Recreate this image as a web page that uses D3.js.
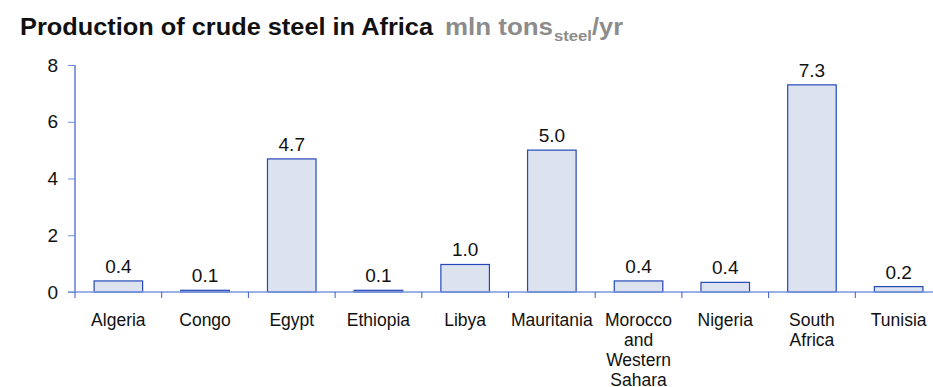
<!DOCTYPE html>
<html><head><meta charset="utf-8">
<script src="https://cdn.jsdelivr.net/npm/d3@7"></script>
<style>body{margin:0;background:#fff}svg{display:block;font-family:"Liberation Sans",Arial,sans-serif}</style>
</head><body><svg id="c" width="933" height="387"></svg>
<script>
const categories = ["Algeria","Congo","Egypt","Ethiopia","Libya","Mauritania","Morocco and Western Sahara","Nigeria","South Africa","Tunisia"];
const categoryLines = [["Algeria"],["Congo"],["Egypt"],["Ethiopia"],["Libya"],["Mauritania"],["Morocco","and","Western","Sahara"],["Nigeria"],["South","Africa"],["Tunisia"]];
const values = [0.39, 0.06, 4.69, 0.06, 0.97, 5.0, 0.39, 0.34, 7.3, 0.19];
const valueLabels = ["0.4","0.1","4.7","0.1","1.0","5.0","0.4","0.4","7.3","0.2"];
const yTicks = [0,2,4,6,8];

const svg = d3.select("#c");
const x = d3.scaleBand().domain(categories).range([75, 942]).padding(0);
const y = d3.scaleLinear().domain([0, 8]).range([292, 65]);
const barFrac = 0.56;

// title
const t = svg.append("g").attr("font-weight","bold");
t.append("text").attr("x",20).attr("y",34.5).attr("font-size",23).attr("fill","#111")
  .attr("textLength",413).attr("lengthAdjust","spacingAndGlyphs")
  .text("Production of crude steel in Africa");
t.append("text").attr("x",445).attr("y",34.5).attr("font-size",23).attr("fill","#8c8c8c")
  .attr("textLength",108).attr("lengthAdjust","spacingAndGlyphs").text("mln tons");
t.append("text").attr("x",554).attr("y",41).attr("font-size",15).attr("fill","#8c8c8c")
  .attr("textLength",38).attr("lengthAdjust","spacingAndGlyphs").text("steel");
t.append("text").attr("x",592).attr("y",34.5).attr("font-size",23).attr("fill","#8c8c8c")
  .attr("textLength",31).attr("lengthAdjust","spacingAndGlyphs").text("/yr");

// y axis
const ya = svg.append("g").attr("transform","translate(75,0)")
  .call(d3.axisLeft(y).tickValues(yTicks).tickSize(7).tickPadding(10).tickFormat(d3.format("d")));
ya.select(".domain").attr("stroke","#3a5cc8").attr("stroke-width",1.2).attr("d","M0,65V292");
ya.selectAll(".tick line").attr("stroke","#6f8fd8");
ya.selectAll(".tick text").attr("font-size",19).attr("fill","#111").attr("font-family","Liberation Sans, Arial, sans-serif");

// bars
svg.append("g").selectAll("rect").data(categories).join("rect")
  .attr("x", d => x(d) + x.bandwidth()*(1-barFrac)/2)
  .attr("width", x.bandwidth()*barFrac)
  .attr("y", (d,i) => y(values[i]))
  .attr("height", (d,i) => y(0) - y(values[i]))
  .attr("fill","#dde3ee").attr("stroke","#2448b8").attr("stroke-width",1.2);

// value labels
svg.append("g").selectAll("text").data(categories).join("text")
  .attr("x", d => x(d) + x.bandwidth()/2)
  .attr("y", (d,i) => y(values[i]) - 8)
  .attr("text-anchor","middle").attr("font-size",19).attr("fill","#111")
  .text((d,i) => valueLabels[i]);

// x axis
const xa = svg.append("g").attr("transform","translate(0,292)");
xa.append("line").attr("x1",68).attr("x2",933).attr("stroke","#7a96dc").attr("stroke-width",1.5);
xa.selectAll("line.tk").data(categories).join("line").attr("class","tk")
  .attr("x1", d => x(d)).attr("x2", d => x(d)).attr("y1",0).attr("y2",6)
  .attr("stroke","#3a5cc8");
const lab = xa.selectAll("text").data(categories).join("text")
  .attr("text-anchor","middle").attr("font-size",17.5).attr("fill","#111")
  .attr("transform", d => `translate(${x(d)+x.bandwidth()/2},34)`);
lab.selectAll("tspan").data((d,i) => categoryLines[i]).join("tspan")
  .attr("x",0).attr("y",(s,j) => j*20).text(s => s);
</script></body></html>
